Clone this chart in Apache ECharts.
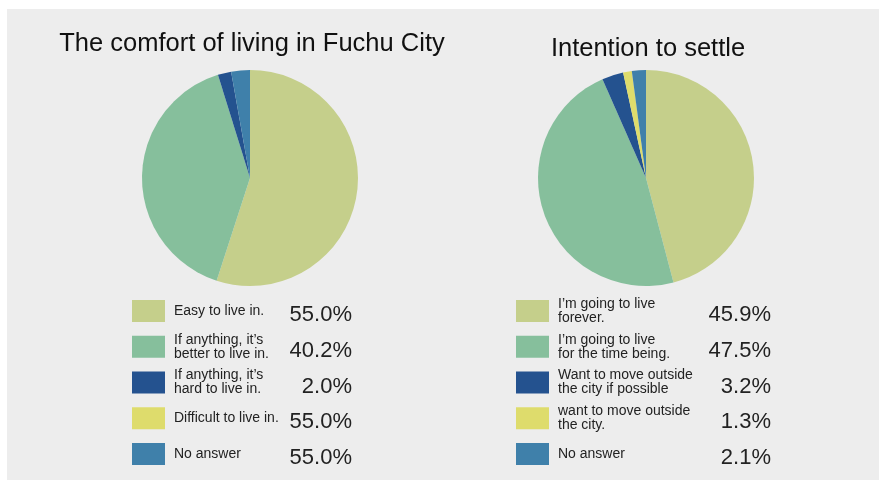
<!DOCTYPE html>
<html>
<head>
<meta charset="utf-8">
<script src="https://cdn.jsdelivr.net/npm/echarts@6/dist/echarts.min.js"></script>
<style>
  html, body { margin: 0; padding: 0; background: #fff; }
  #main { width: 879px; height: 480px; }
</style>
</head>
<body>
<div id="main"></div>
<script>
var colors = ['#C5CF8B', '#86BF9C', '#24528F', '#DEDC6C', '#3F80AA'];

// left chart
var comfortNames = ['Easy to live in.', 'If anything, it\u2019s\nbetter to live in.', 'If anything, it\u2019s\nhard to live in.', 'Difficult to live in.', 'No answer'];
var comfortValues = [55.0, 40.2, 2.0, 0, 2.8];          // slice sizes
var comfortLabels = ['55.0%', '40.2%', '2.0%', '55.0%', '55.0%']; // as printed

// right chart
var settleNames = ['I\u2019m going to live\nforever.', 'I\u2019m going to live\nfor the time being.', 'Want to move outside\nthe city if possible', 'want to move outside\nthe city.', 'No answer '];
var settleValues = [45.9, 47.5, 3.2, 1.3, 2.1];
var settleLabels = ['45.9%', '47.5%', '3.2%', '1.3%', '2.1%'];

var chart = echarts.init(document.getElementById('main'));
var font = '"Liberation Sans", Arial, sans-serif';

function pieSeries(names, values, cx) {
    return {
        type: 'pie',
        center: [cx, 178],
        radius: 108,
        startAngle: 90,
        clockwise: true,
        silent: true,
        label: { show: false },
        labelLine: { show: false },
        itemStyle: { borderWidth: 0 },
        data: names.map(function (n, i) {
            return { name: n, value: values[i], itemStyle: { color: colors[i] } };
        })
    };
}

var legends = [];
var graphics = [{
    type: 'rect', z: -10,
    shape: { x: 7, y: 9, width: 872, height: 471 },
    style: { fill: '#EDEDED' }
}];

// one legend per row so every swatch sits on the same pitch
function addLegend(names, labels, left, pctRight) {
    names.forEach(function (n, i) {
        var lines = n.split('\n').length;
        var h = Math.max(22, lines * 14);
        var rowTop = 300 + i * 35.75;
        legends.push({
            orient: 'vertical',
            left: left,
            top: rowTop - (h - 22) / 2,
            padding: 0,
            itemWidth: 33,
            itemHeight: 22,
            selectedMode: false,
            icon: 'rect',
            data: [n],
            textStyle: { fontFamily: font, fontSize: 14, lineHeight: 14, color: '#222', padding: [0, 0, 0, 4] }
        });
        graphics.push({
            type: 'text',
            x: pctRight,
            y: rowTop + 15,
            style: {
                text: labels[i],
                fontFamily: font,
                fontSize: 22,
                fill: '#222',
                align: 'right',
                verticalAlign: 'middle'
            }
        });
    });
}
addLegend(comfortNames, comfortLabels, 132, 352);
addLegend(settleNames, settleLabels, 516, 771);

chart.setOption({
    animation: false,
    title: [
        {
            text: 'The comfort of living in Fuchu City',
            left: 247, top: 26, textAlign: 'center',
            textStyle: { fontFamily: font, fontSize: 25.5, fontWeight: 'normal', color: '#111' }
        },
        {
            text: 'Intention to settle',
            left: 643, top: 31, textAlign: 'center',
            textStyle: { fontFamily: font, fontSize: 25.5, fontWeight: 'normal', color: '#111' }
        }
    ],
    legend: legends,
    graphic: graphics,
    series: [
        pieSeries(comfortNames, comfortValues, 250),
        pieSeries(settleNames, settleValues, 646)
    ]
});
</script>
</body>
</html>
